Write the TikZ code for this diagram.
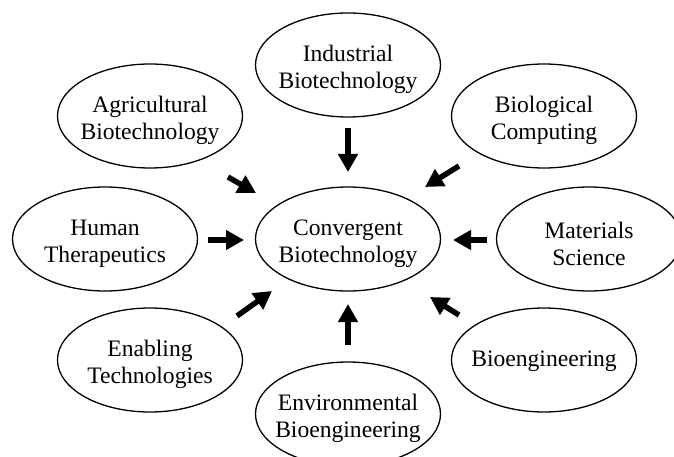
\documentclass[tikz,border=0pt]{standalone}
\usepackage{fontspec}
\setmainfont{Liberation Serif}
\usetikzlibrary{arrows.meta,shapes.geometric}
\begin{document}
\begin{tikzpicture}[x=1pt,y=-1pt,
  topic/.style={draw,line width=1.3pt,ellipse,minimum width=185pt,minimum height=104pt,inner sep=0pt},
  txt/.style={align=center,inner sep=0pt,font=\fontsize{23.6}{27}\selectfont,yshift=-4.5pt},
  txtone/.style={txt,yshift=3pt},
  flow/.style={line width=5.5pt,-{Triangle[length=18pt,width=19pt]}}]
\clip (0,0) rectangle (674,457);
\useasboundingbox (0,0) rectangle (674,457);
\node[topic,label={[txt]center:{Industrial\\Biotechnology}}] (ind) at (348,65) {};
\node[topic,label={[txt]center:{Agricultural\\Biotechnology}}] (agr) at (150,116) {};
\node[topic,label={[txt]center:{Biological\\Computing}}] (bio) at (544,116) {};
\node[topic,label={[txt]center:{Human\\Therapeutics}}] (hum) at (105,239) {};
\node[topic,label={[txt]center:{Convergent\\Biotechnology}}] (con) at (348,239) {};
\node[topic,label={[txt]center:{Materials\\Science}}] (mat) at (589,239) {};
\node[topic,label={[txt]center:{Enabling\\Technologies}}] (ena) at (150,360) {};
\node[topic,label={[txtone]center:{Bioengineering}}] (bng) at (544,360) {};
\node[topic,label={[txt]center:{Environmental\\Bioengineering}}] (env) at (348,414) {};
% arrow end points
\coordinate (indT) at (348,128); \coordinate (indH) at (348,172);
\coordinate (agrT) at (228,177); \coordinate (agrH) at (256,193);
\coordinate (bioT) at (459,166); \coordinate (bioH) at (425,187);
\coordinate (humT) at (208,240); \coordinate (humH) at (244,240);
\coordinate (matT) at (487,240); \coordinate (matH) at (453,240);
\coordinate (enaT) at (237,316); \coordinate (enaH) at (272,291);
\coordinate (bngT) at (459,315); \coordinate (bngH) at (430,297);
\coordinate (envT) at (348,345); \coordinate (envH) at (348,304);
\draw[flow] (indT) -- (indH);
\draw[flow] (agrT) -- (agrH);
\draw[flow] (bioT) -- (bioH);
\draw[flow] (humT) -- (humH);
\draw[flow] (matT) -- (matH);
\draw[flow] (enaT) -- (enaH);
\draw[flow] (bngT) -- (bngH);
\draw[flow] (envT) -- (envH);
\end{tikzpicture}
\end{document}
